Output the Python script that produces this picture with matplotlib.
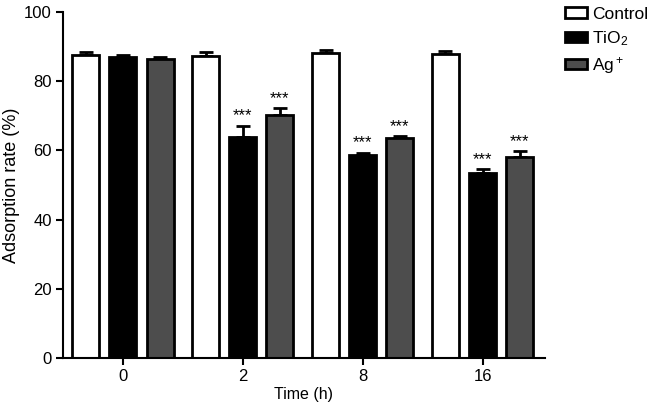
import matplotlib
matplotlib.use("Agg")
import matplotlib.pyplot as plt
import numpy as np

plt.rcParams['font.family'] = ['Liberation Sans', 'DejaVu Sans']
plt.rcParams['mathtext.fontset'] = 'custom'
plt.rcParams['mathtext.rm'] = 'Liberation Sans'

time_labels = ["0", "2", "8", "16"]
series_names = [r"Control", r"$\mathregular{TiO_2}$", r"$\mathregular{Ag^+}$"]
control = [87.6, 87.4, 88.3, 87.8]
tio2 = [87.0, 63.8, 58.8, 53.4]
ag = [86.3, 70.3, 63.5, 58.2]
control_err = [0.8, 1.1, 0.8, 0.8]
tio2_err = [0.7, 3.4, 0.6, 1.2]
ag_err = [0.6, 2.0, 0.6, 1.5]
stars_tio2 = ["", "***", "***", "***"]
stars_ag = ["", "***", "***", "***"]

colors = ["white", "black", "#4d4d4d"]

fig = plt.figure(figsize=(6.55, 4.08), dpi=100)
ax = fig.add_axes([0.096, 0.1225, 0.736, 0.848])

x = np.arange(len(time_labels))
w = 0.225
off = 0.31
vals = [control, tio2, ag]
errs = [control_err, tio2_err, ag_err]
handles = []
for i, (v, e, c, name) in enumerate(zip(vals, errs, colors, series_names)):
    pos = x + (i - 1) * off
    b = ax.bar(pos, v, w, color=c, edgecolor="black", linewidth=2, label=name, zorder=2)
    ax.errorbar(pos, v, yerr=[np.zeros(len(e)), e], fmt="none", ecolor="black",
                elinewidth=2, capsize=5, capthick=2, zorder=1)
    handles.append(b)

for i, (v, e) in enumerate(zip(tio2, tio2_err)):
    if stars_tio2[i]:
        ax.text(x[i], v + e + 0.6, stars_tio2[i], ha="center", va="bottom", fontsize=12)
for i, (v, e) in enumerate(zip(ag, ag_err)):
    if stars_ag[i]:
        ax.text(x[i] + off, v + e + 0.6, stars_ag[i], ha="center", va="bottom", fontsize=12)

ax.set_ylim(0, 100)
ax.set_xlim(-0.5, 3.52)
ax.set_xticks(x)
ax.set_xticklabels(time_labels)
ax.set_yticks([0, 20, 40, 60, 80, 100])
ax.spines["top"].set_visible(False)
ax.spines["right"].set_visible(False)
ax.spines["left"].set_linewidth(1.5)
ax.spines["bottom"].set_linewidth(1.5)
ax.tick_params(axis="both", direction="out", length=5, width=1.5, labelsize=12, pad=3)
ax.set_xlabel("Time (h)", fontsize=11.5, labelpad=2)
ax.set_ylabel("Adsorption rate (%)", fontsize=13, labelpad=3)

leg = fig.legend(handles=handles, labels=series_names, loc="upper left",
                 bbox_to_anchor=(0.838, 1.022), frameon=False, fontsize=12.5,
                 handlelength=1.3, handleheight=0.55, handletextpad=0.3, labelspacing=0.42)

fig.savefig("out.png", dpi=100)
